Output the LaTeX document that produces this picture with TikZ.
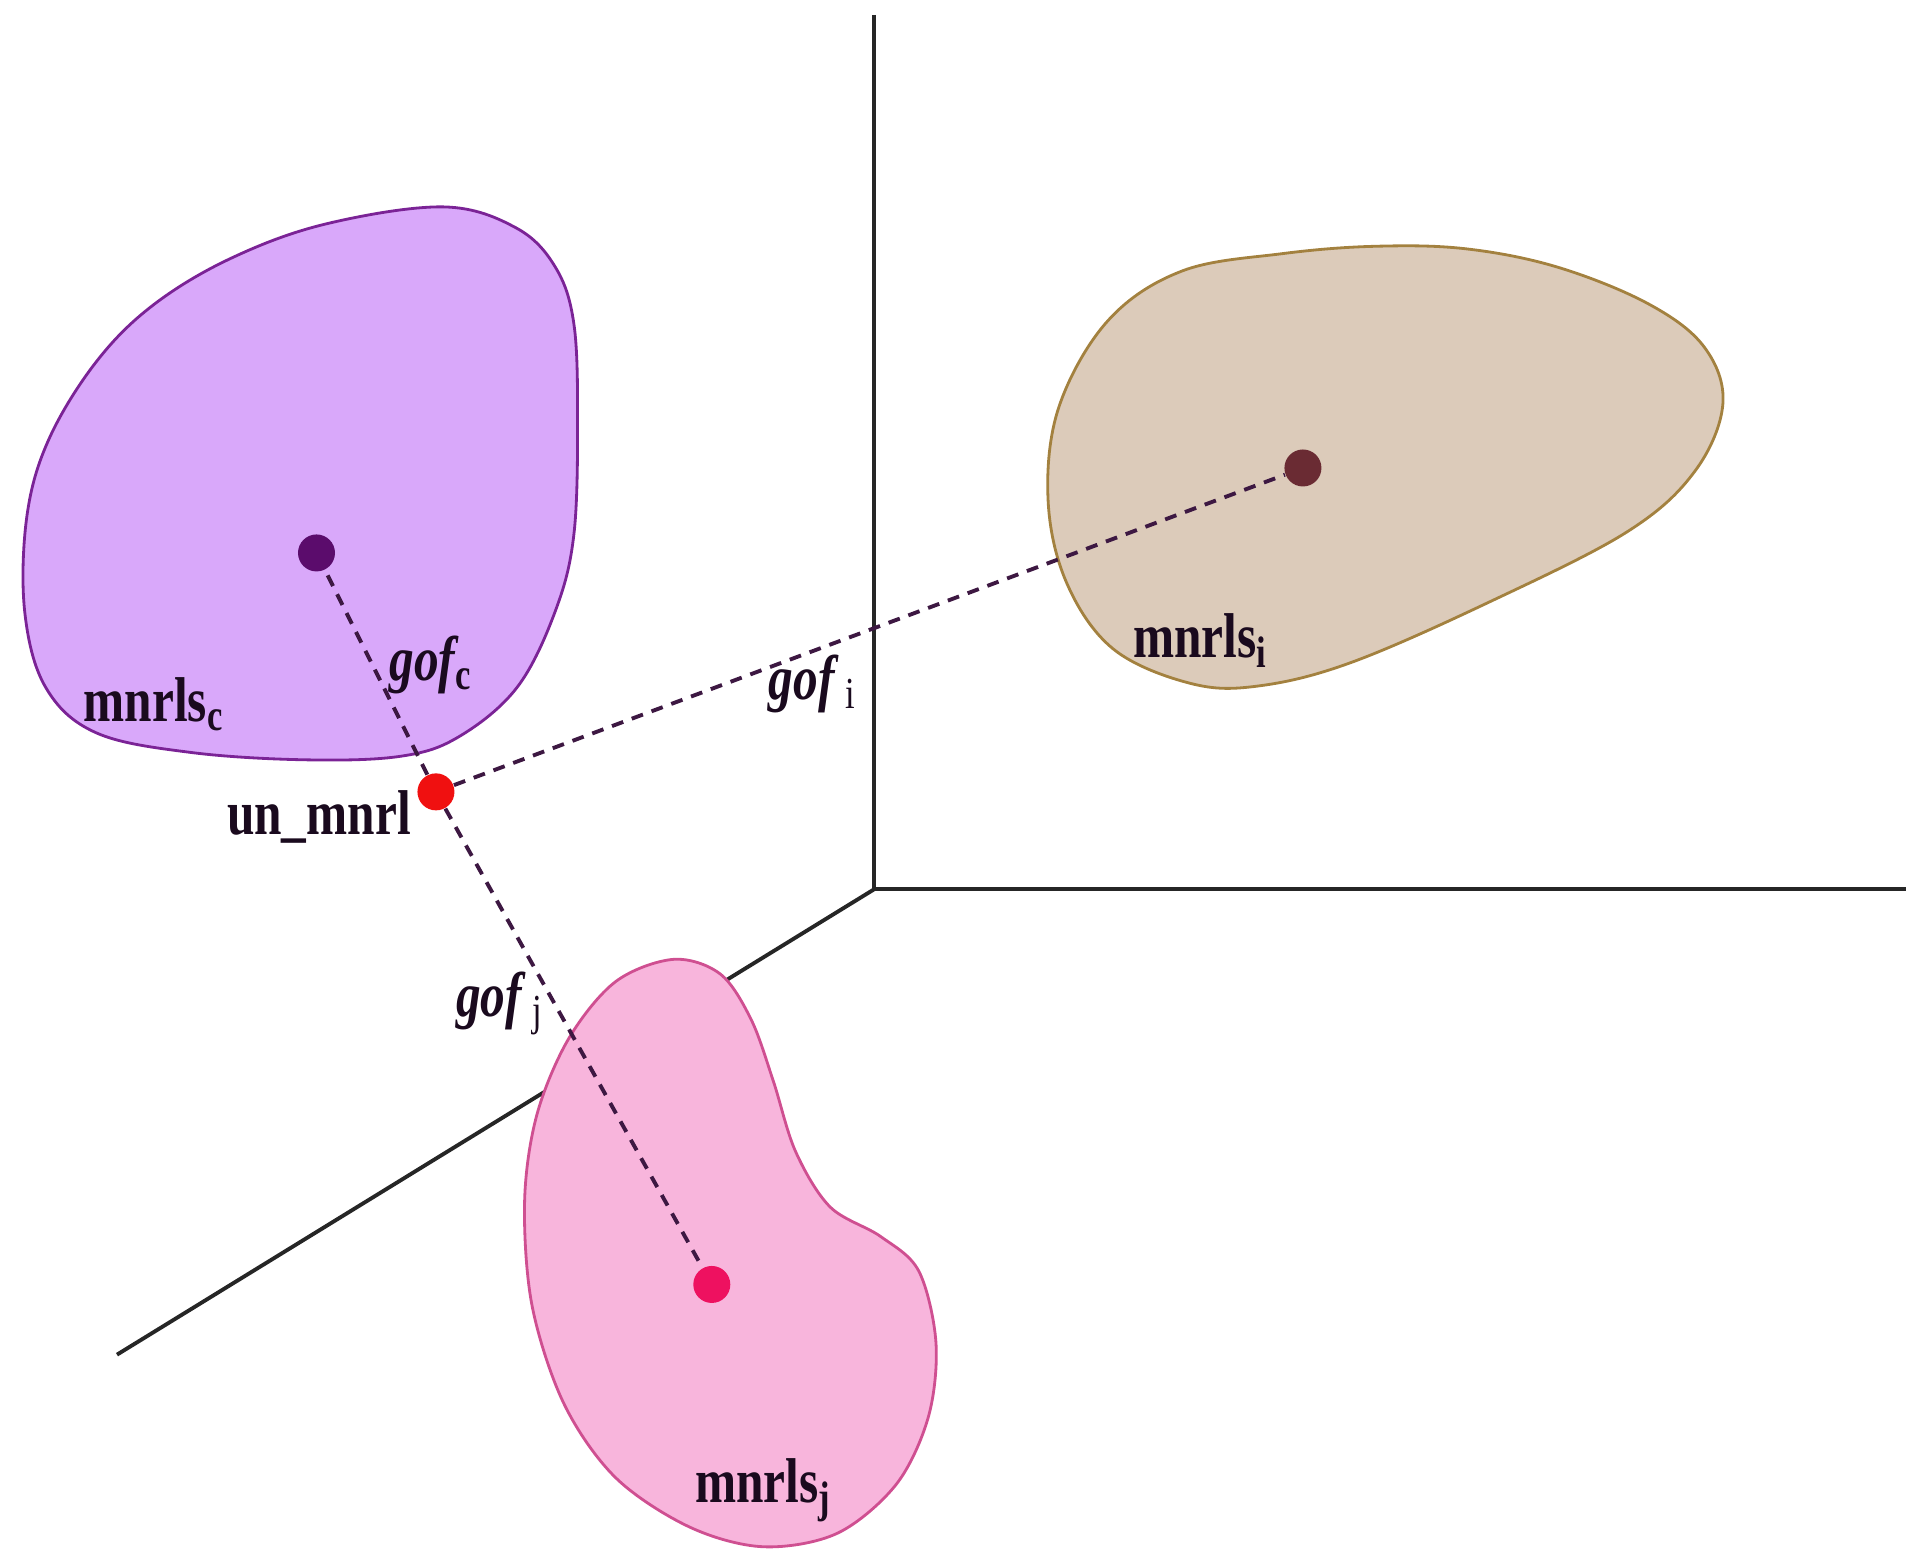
\documentclass[tikz,border=0pt]{standalone}
\usepackage{fontspec}
\usepackage{xcolor}
\usepackage{tikz}
\newfontfamily\lblfont[FakeStretch=0.78]{Liberation Serif}
\definecolor{violetfill}{HTML}{D9A8FA}
\definecolor{violetline}{HTML}{7B2396}
\definecolor{tanfill}{HTML}{DCCBBA}
\definecolor{tanline}{HTML}{A3813F}
\definecolor{pinkfill}{HTML}{F8B5DC}
\definecolor{pinkline}{HTML}{CF4F91}
\definecolor{violetdot}{HTML}{5B0C6C}
\definecolor{reddot}{HTML}{F01010}
\definecolor{browndot}{HTML}{6A2B33}
\definecolor{pinkdot}{HTML}{EE1160}
\definecolor{dashcol}{HTML}{3D1842}
\definecolor{lblcol}{HTML}{1A0A1E}

\begin{document}
\begin{tikzpicture}[x=0.012315cm, y=-0.012315cm,
    axis/.style={line width=1.1pt, black!85},
    blob/.style={line width=0.8pt},
    dist/.style={dashcol, line width=1.1pt, dash pattern=on 3.4pt off 2.6pt},
    dot/.style={circle, inner sep=0pt, minimum size=0.37cm},
    lbl/.style={text=lblcol, font=\lblfont\bfseries\fontsize{18}{20}\selectfont, inner sep=0pt}]
        \useasboundingbox (0,0) rectangle (1568,1270);
        % Draw the three axes
        \coordinate (o) at (710,722);
        \coordinate (ztop) at (710,12);
        \coordinate (xend) at (1548,722);
        \coordinate (yend) at (95,1100);
        \draw[axis] (ztop) -- (o) -- (xend);
        \draw[axis] (o) -- (yend);
        % Draw the mineral clusters
        \draw[blob, violetline, fill=violetfill] plot[smooth cycle, tension=0.6] coordinates {
            (360,168) (419,185) (451,217) (466,263) (469,341) (466,434)
            (451,496) (420,558) (373,598) (326,614) (249,617) (155,611)
            (78,595) (37,558) (20,496) (22,418) (40,356) (78,294)
            (124,248) (187,210) (264,182)};
        \draw[blob, tanline, fill=tanfill] plot[smooth cycle, tension=0.6] coordinates {
            (1041,206) (1116,200) (1190,202) (1265,217) (1339,247) (1384,282)
            (1399,328) (1376,383) (1321,432) (1209,489) (1097,538) (1022,557)
            (967,555) (904,527) (866,473) (851,405) (860,330) (900,260) (960,220)};
        \draw[blob, pinkline, fill=pinkfill] plot[smooth cycle, tension=0.55] coordinates {
            (547,779) (585,791) (610,828) (628,878) (646,935) (674,980)
            (715,1004) (746,1032) (760,1090) (754,1150) (728,1205)
            (680,1245) (620,1256) (560,1240) (500,1200) (458,1140)
            (432,1060) (426,975) (436,905) (462,843) (500,797)};
        % Draw the centres and the unknown mineral
        \foreach \name/\pos/\col in {cc/{(257,449)}/violetdot, ci/{(1058,380)}/browndot,
                                     cj/{(578,1043)}/pinkdot, un/{(354,643)}/reddot} {
            \node[dot, fill=\col] (\name) at \pos {};
        }
        % Dashed distances
        \draw[dist] (un) -- (cc);
        \draw[dist] (un) -- (ci);
        \draw[dist] (un) -- (cj);
        % Labels
        \node[lbl] (lc) at (125,572) {mnrls\textsubscript{c}};
        \node[lbl] (li) at (975,520) {mnrls\textsubscript{i}};
        \node[lbl] (lj) at (620,1210) {mnrls\textsubscript{j}};
        \node[lbl] (lu) at (259,663) {un\_mnrl};
        \node[lbl] (gc) at (350,540) {\itshape gof\textsubscript{\upshape c}};
        \node[lbl] (gi) at (660,555) {\itshape gof\,\textsubscript{\upshape\mdseries i}};
        \node[lbl] (gj) at (406,815) {\itshape gof\,\textsubscript{\upshape\mdseries j}};
    \end{tikzpicture}
\end{document}
